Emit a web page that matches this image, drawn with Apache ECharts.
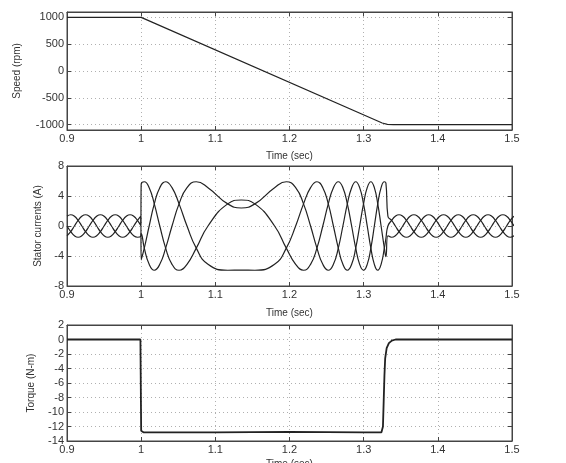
<!DOCTYPE html>
<html><head><meta charset="utf-8">
<script src="https://cdn.jsdelivr.net/npm/echarts@6/dist/echarts.min.js"></script>
<style>html,body{margin:0;padding:0;background:#fff}#c{width:566px;height:463px}</style>
</head><body><div id="c"></div>
<script>
// ---------- data ----------
const timeTicks = [0.9, 1.0, 1.1, 1.2, 1.3, 1.4, 1.5];
const speedTicks = [-1000, -500, 0, 500, 1000];
const currentTicks = [-8, -4, 0, 4, 8];
const torqueTicks = [-14, -12, -10, -8, -6, -4, -2, 0, 2];

const speedTime = [0.9, 1.0, 1.325, 1.332, 1.34, 1.5];
const speedRpm  = [1000, 1000, -970, -995, -1000, -1000];

const currentTime = [
  0.900,0.905,0.910,0.915,0.920,0.925,0.930,0.935,0.940,0.945,0.950,0.955,0.960,0.965,0.970,0.975,0.980,0.985,0.990,0.995,0.9995,
  1.0000,1.0042,1.0108,1.0177,1.0251,1.0330,1.0416,1.0511,1.0618,1.0743,1.0901,1.1167,1.1350,1.1533,1.1799,1.1957,1.2083,1.2189,1.2284,1.2370,1.2449,1.2523,1.2592,1.2658,1.2720,1.2780,1.2838,1.2893,1.2946,1.2998,1.3048,1.3097,1.3144,1.3190,1.3235,1.3279,1.3300,
  1.3327,1.3377,1.3427,1.3477,1.3527,1.3577,1.3627,1.3677,1.3727,1.3777,1.3827,1.3877,1.3927,1.3977,1.4027,1.4077,1.4127,1.4177,1.4227,1.4277,1.4327,1.4377,1.4427,1.4477,1.4527,1.4577,1.4627,1.4677,1.4727,1.4777,1.4827,1.4877,1.4927,1.4977,1.5027
];
const currentA = [
  -1.3,-0.75,0,0.75,1.3,1.5,1.3,0.75,0,-0.75,-1.3,-1.5,-1.3,-0.75,0,0.75,1.3,1.5,1.3,0.75,0.08,
  5.54,5.9,5.11,2.95,0,-2.95,-5.11,-5.9,-5.11,-2.95,0,2.95,3.47,2.95,0,-2.95,-5.11,-5.9,-5.11,-2.95,0,2.95,5.11,5.9,5.11,2.95,0,-2.95,-5.11,-5.9,-5.11,-2.95,0,2.95,5.11,5.9,5.73,
  1.3,0.75,0,-0.75,-1.3,-1.5,-1.3,-0.75,0,0.75,1.3,1.5,1.3,0.75,0,-0.75,-1.3,-1.5,-1.3,-0.75,0,0.75,1.3,1.5,1.3,0.75,0,-0.75,-1.3,-1.5,-1.3,-0.75,0,0.75,1.3
];
const currentB = [
  0,-0.75,-1.3,-1.5,-1.3,-0.75,0,0.75,1.3,1.5,1.3,0.75,0,-0.75,-1.3,-1.5,-1.3,-0.75,0,0.75,1.29,
  -4.52,-2.95,0,2.95,5.11,5.9,5.11,2.95,0,-2.95,-5.11,-5.9,-5.87,-5.9,-5.11,-2.95,0,2.95,5.11,5.9,5.11,2.95,0,-2.95,-5.11,-5.9,-5.11,-2.95,0,2.95,5.11,5.9,5.11,2.95,0,-2.95,-4.10,
  -1.3,-1.5,-1.3,-0.75,0,0.75,1.3,1.5,1.3,0.75,0,-0.75,-1.3,-1.5,-1.3,-0.75,0,0.75,1.3,1.5,1.3,0.75,0,-0.75,-1.3,-1.5,-1.3,-0.75,0,0.75,1.3,1.5,1.3,0.75,0
];
const currentC = [
  1.3,1.5,1.3,0.75,0,-0.75,-1.3,-1.5,-1.3,-0.75,0,0.75,1.3,1.5,1.3,0.75,0,-0.75,-1.3,-1.5,-1.36,
  -1.02,-2.95,-5.11,-5.9,-5.11,-2.95,0,2.95,5.11,5.9,5.11,2.95,2.40,2.95,5.11,5.9,5.11,2.95,0,-2.95,-5.11,-5.9,-5.11,-2.95,0,2.95,5.11,5.9,5.11,2.95,0,-2.95,-5.11,-5.9,-5.11,-2.95,-1.63,
  0,0.75,1.3,1.5,1.3,0.75,0,-0.75,-1.3,-1.5,-1.3,-0.75,0,0.75,1.3,1.5,1.3,0.75,0,-0.75,-1.3,-1.5,-1.3,-0.75,0,0.75,1.3,1.5,1.3,0.75,0,-0.75,-1.3,-1.5,-1.3
];

const torqueTime = [0.9, 0.95, 0.999, 1.0, 1.003, 1.1, 1.2, 1.3, 1.324, 1.326, 1.327, 1.328, 1.329, 1.331, 1.334, 1.338, 1.343, 1.4, 1.5];
const torqueNm   = [0, 0, 0, -12.6, -12.8, -12.8, -12.75, -12.8, -12.8, -12, -8.5, -5, -2.6, -1.2, -0.5, -0.15, 0, 0, 0];

// ---------- chart ----------
const zip = (xs, ys) => xs.map((x, i) => [x, ys[i]]);
const layout = [
  {top: 12, height: 118, yName: 'Speed (rpm)', yGap: 45, xGap: 21},
  {top: 166, height: 120, yName: 'Stator currents (A)', yGap: 22, xGap: 22},
  {top: 325, height: 116, yName: 'Torque (N-m)', yGap: 31, xGap: 18}
];
const yTicks = [speedTicks, currentTicks, torqueTicks];
const yRange = [[-1100, 1100], [-8, 8], [-14, 2]];
const font = 'Liberation Sans, Arial, sans-serif';
const lbl = {color: '#333', fontSize: 11, fontFamily: font};
const gridLine = {show: true, lineStyle: {color: '#b0b0b0', type: [1, 3], width: 1}};
const axLine = {show: true, onZero: false, lineStyle: {color: '#444', width: 1}};
const tick = {show: true, inside: true, length: 4, lineStyle: {color: '#444'}};

const grid = [], xAxis = [], yAxis = [];
layout.forEach((g, i) => {
  grid.push({left: 67, right: 54, top: g.top, height: g.height, show: true, borderColor: '#444', borderWidth: 1,
    backgroundColor: '#fff', containLabel: false, outerBoundsMode: 'none'});
  xAxis.push({gridIndex: i, type: 'value', position: 'bottom', min: timeTicks[0], max: timeTicks[timeTicks.length - 1], interval: 0.1,
    axisLine: axLine, axisTick: tick, splitLine: gridLine,
    axisLabel: Object.assign({margin: 3, customValues: timeTicks, formatter: v => String(+(+v).toFixed(1))}, lbl),
    name: 'Time (sec)', nameLocation: 'middle', nameGap: g.xGap,
    nameTextStyle: {color: '#333', fontSize: 10, fontFamily: font}});
  xAxis.push({gridIndex: i, type: 'value', position: 'top', min: timeTicks[0], max: timeTicks[timeTicks.length - 1], interval: 0.1,
    axisLine: axLine, axisTick: tick, axisLabel: {show: false}, splitLine: {show: false}});
  const t = yTicks[i];
  yAxis.push({gridIndex: i, type: 'value', position: 'left', min: yRange[i][0], max: yRange[i][1],
    axisLine: axLine, axisTick: Object.assign({customValues: t}, tick), splitLine: gridLine,
    axisLabel: Object.assign({margin: 3, customValues: t, formatter: v => String(v)}, lbl),
    name: g.yName, nameLocation: 'middle', nameGap: g.yGap,
    nameTextStyle: {color: '#333', fontSize: 10, fontFamily: font}});
  yAxis.push({gridIndex: i, type: 'value', position: 'right', min: yRange[i][0], max: yRange[i][1],
    axisLine: axLine, axisTick: Object.assign({customValues: t}, tick), axisLabel: {show: false}, splitLine: {show: false}});
});

const lineBase = {type: 'line', showSymbol: false, symbol: 'none', animation: false, lineStyle: {color: '#222', width: 1.2}};
const series = [
  Object.assign({}, lineBase, {name: 'Speed', xAxisIndex: 0, yAxisIndex: 0, data: zip(speedTime, speedRpm)}),
  Object.assign({}, lineBase, {name: 'ia', xAxisIndex: 2, yAxisIndex: 2, smooth: 0.5, data: zip(currentTime, currentA)}),
  Object.assign({}, lineBase, {name: 'ib', xAxisIndex: 2, yAxisIndex: 2, smooth: 0.5, data: zip(currentTime, currentB)}),
  Object.assign({}, lineBase, {name: 'ic', xAxisIndex: 2, yAxisIndex: 2, smooth: 0.5, data: zip(currentTime, currentC)}),
  Object.assign({}, lineBase, {name: 'Torque', xAxisIndex: 4, yAxisIndex: 4, data: zip(torqueTime, torqueNm), lineStyle: {color: '#222', width: 1.8}})
];

const chart = echarts.init(document.getElementById('c'), null, {renderer: 'canvas'});
chart.setOption({animation: false, backgroundColor: '#fff', grid, xAxis, yAxis, series});
</script>
</body></html>
